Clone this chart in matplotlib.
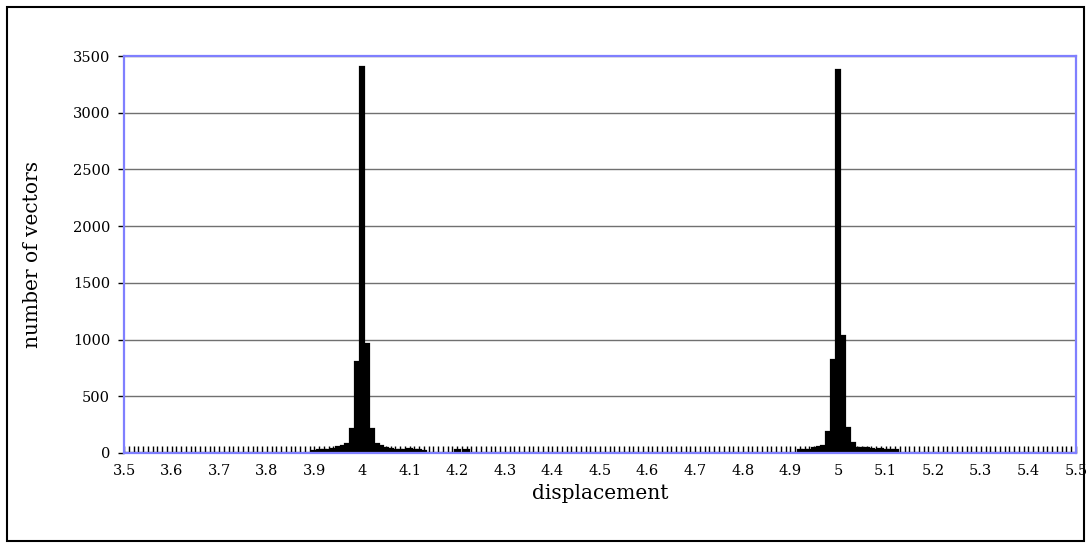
import matplotlib.pyplot as plt
import numpy as np
from matplotlib.patches import Rectangle
from matplotlib.ticker import MultipleLocator

# displacement bins, 0.01 wide, from 3.50 to 5.50
disp = np.round(np.arange(350, 551) / 100, 2)

# non-empty bins (everything else is zero)
bins_near_4 = [3.90, 3.91, 3.92, 3.93, 3.94, 3.95, 3.96, 3.97, 3.98, 3.99,
               4.00, 4.01, 4.02, 4.03, 4.04, 4.05, 4.06, 4.07, 4.08, 4.09,
               4.10, 4.11, 4.12, 4.13, 4.20, 4.22]
counts_near_4 = [20, 25, 25, 30, 35, 50, 60, 75, 210, 800,
                 3400, 960, 215, 80, 60, 45, 35, 30, 25, 30,
                 35, 30, 25, 20, 25, 25]
bins_near_5 = [4.92, 4.93, 4.94, 4.95, 4.96, 4.97, 4.98, 4.99, 5.00, 5.01,
               5.02, 5.03, 5.04, 5.05, 5.06, 5.07, 5.08, 5.09, 5.10, 5.11, 5.12]
counts_near_5 = [25, 25, 30, 40, 55, 65, 185, 820, 3380, 1030,
                 220, 85, 45, 40, 40, 35, 30, 35, 30, 30, 25]

counts = np.zeros(len(disp))
for b, c in zip(bins_near_4 + bins_near_5, counts_near_4 + counts_near_5):
    counts[np.argmin(np.abs(disp - b))] = c

x_labels = ['3.5', '3.6', '3.7', '3.8', '3.9', '4', '4.1', '4.2', '4.3', '4.4', '4.5',
            '4.6', '4.7', '4.8', '4.9', '5', '5.1', '5.2', '5.3', '5.4', '5.5']
y_ticks = [0, 500, 1000, 1500, 2000, 2500, 3000, 3500]

plt.rcParams['font.family'] = 'DejaVu Serif'

fig = plt.figure(figsize=(10.89, 5.43), dpi=100)
ax = fig.add_axes([124 / 1089, 1 - 453 / 543, 952 / 1089, 397 / 543])

ax.bar(disp, counts, width=0.01, color='black', edgecolor='black', linewidth=1.6, zorder=3)

ax.set_xlim(3.5, 5.5)
ax.set_ylim(0, 3500)
ax.set_xticks(np.linspace(3.5, 5.5, 21))
ax.set_xticklabels(x_labels)
ax.xaxis.set_minor_locator(MultipleLocator(0.01))
ax.tick_params(axis='x', which='both', direction='in', length=5, width=1,
               color='black', labelsize=10.5, pad=8)
ax.set_yticks(y_ticks)
ax.tick_params(axis='y', direction='out', length=4, width=1, color='black',
               labelsize=10.5, pad=6)

ax.yaxis.grid(True, color='#707070', linewidth=1.0, zorder=0)
ax.set_axisbelow(True)
for side in ['left', 'right', 'top', 'bottom']:
    ax.spines[side].set_color('#7f7fff')
    ax.spines[side].set_linewidth(1.6)
    ax.spines[side].set_zorder(4)

ax.set_xlabel('displacement', fontsize=14.5, labelpad=4)
ax.set_ylabel('number of vectors', fontsize=14.5, labelpad=22)

# outer chart border
fig.patches.append(Rectangle((7 / 1089, 2 / 543), 1077 / 1089, 534 / 543,
                             transform=fig.transFigure, fill=False,
                             edgecolor='black', linewidth=1.5))

fig.savefig('out.png', dpi=100)
